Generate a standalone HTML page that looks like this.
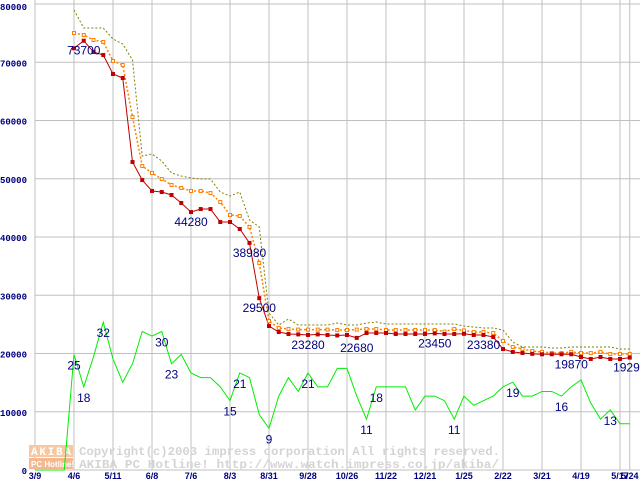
<!DOCTYPE html>
<html><head><meta charset="utf-8"><style>
html,body{margin:0;padding:0;background:#fff;}
svg{display:block;}
text{font-family:"Liberation Sans",sans-serif;}
text.mono{font-family:"Liberation Mono",monospace;}
</style></head><body>
<svg id="chart" width="640" height="480" viewBox="0 0 640 480" xmlns="http://www.w3.org/2000/svg">
<g id="grid"></g>
<g id="watermark">
  <rect x="29" y="445" width="44" height="12" fill="#f7c8a0"/>
  <rect x="29" y="458" width="44" height="11" fill="#f4b890"/>
  <text class="mono" x="31" y="455" font-size="11" font-weight="bold" fill="#fff" textLength="40">AKIBA</text>
  <text x="31" y="467" font-size="8" font-weight="bold" fill="#fff">PC Hotline!</text>
  <text class="mono" x="79" y="455" font-size="12" font-weight="bold" fill="#d4d4d4" textLength="421" lengthAdjust="spacingAndGlyphs">Copyright(c)2003 impress corporation All rights reserved.</text>
  <text class="mono" x="79" y="468" font-size="12" font-weight="bold" fill="#d4d4d4" textLength="420" lengthAdjust="spacingAndGlyphs">AKIBA PC Hotline!  http://www.watch.impress.co.jp/akiba/</text>
</g>
<g id="series"></g>
<g id="labels"></g>
</svg>
<script>
const xLabels = ["3/9","4/6","5/11","6/8","7/6","8/3","8/31","9/28","10/26","11/22","12/21","1/25","2/22","3/21","4/19","5/17","5/24"];
const xLabelIdx = [0,4,8,12,16,20,24,28,32,36,40,44,48,52,56,60,61];
const yTicks = [0,10000,20000,30000,40000,50000,60000,70000,80000];
const START = 4;
const minPrice = [72400,73700,71760,71240,67980,67300,52870,49780,47900,47720,47210,45840,44280,44800,44800,42570,42570,41370,38980,29500,24720,23690,23350,23280,23180,23280,23180,23100,23180,22680,23520,23520,23520,23350,23350,23350,23350,23450,23350,23350,23380,23180,23180,22830,20770,20260,20090,19940,19870,19870,19870,19870,19400,19060,19400,19060,19060,19299];
const avgPrice = [75020,74680,73820,73480,70210,69530,60600,52190,50990,49950,48930,48410,47900,47900,47550,46000,43780,43600,41720,35540,25580,24380,24200,24100,24100,24100,24100,24030,24030,24100,24200,24200,24030,24030,24030,24030,24030,24030,23760,24200,23950,23690,23690,23520,22150,21120,20770,20430,20260,20080,20080,20260,20080,20080,20260,19910,19910,19910];
const maxPrice = [78970,75880,75880,75880,73990,73130,70390,53900,54250,53050,50990,50470,50130,49950,49950,47720,47040,47720,42920,41720,26950,24890,25920,24890,24890,24890,24890,25230,24890,24890,25230,25410,25060,25060,25060,25060,25060,25060,25060,25060,24720,24550,24380,24380,24030,21970,21120,21120,21120,20940,20940,21120,21120,21120,21120,21120,20770,20770];
const shopCount = [0,0,0,0,25,18,24.5,32,24,19,23,30,29,30,23,25,21,20,20,18,15,21,20,12,9,16,20,17,21,18,18,22,22,16,11,18,18,18,18,13,16,16,15,11,16,14,15,16,18,19,16,16,17,17,16,18,19.5,14.5,11,13,10,10];
const priceLabelIdx = [5,16,22,23,28,33,41,46,55,61];
const priceLabelText = ["73700","44280","38980","29500","23280","22680","23450","23380","19870","19299"];
const countLabelIdx = [4,5,7,13,14,20,21,24,28,34,35,43,49,54,59];

const NS="http://www.w3.org/2000/svg";
const X0=35, DX=9.75, Y0=470, PPU=466/80000, CPU=4.62;
const xs=i=>X0+i*DX;
const ys=v=>Y0-v*PPU;
const yc=c=>Y0-c*CPU;
function mk(tag,attrs,parent){const e=document.createElementNS(NS,tag);for(const k in attrs)e.setAttribute(k,attrs[k]);parent.appendChild(e);return e;}
const grid=document.getElementById('grid'),series=document.getElementById('series'),labels=document.getElementById('labels');

yTicks.forEach(v=>{
  const l=mk('line',{x1:X0,x2:640,y1:ys(v),y2:ys(v),stroke:'#c0c0c0','stroke-width':1},grid);
  
  
  const t=mk('text',{class:'mono',x:27,y:ys(v)+(v===80000?6:4),'text-anchor':'end','font-size':9,'font-weight':'bold',fill:'#000080'},grid);
  t.textContent=String(v);
  
  
});
xLabelIdx.forEach((i,k)=>{
  const l=mk('line',{x1:xs(i),x2:xs(i),y1:0,y2:Y0,stroke:'#c0c0c0','stroke-width':1},grid);
  
  
  const t=mk('text',{x:xs(i),y:479,'text-anchor':'middle','font-size':9,'font-weight':'bold',fill:'#000080'},grid);
  t.textContent=xLabels[k];
  
  
});

function pts(arr,off,fy){return arr.map((v,j)=>xs(j+off).toFixed(2)+','+fy(v).toFixed(2)).join(' ');}
const g1=mk('polyline',{points:pts(shopCount,0,yc),fill:'none',stroke:'#00ee00','stroke-width':1},series);


const mx=mk('polyline',{points:pts(maxPrice,START,ys),fill:'none',stroke:'#808000','stroke-width':1,'stroke-dasharray':'2,2'},series);


const av=mk('polyline',{points:pts(avgPrice,START,ys),fill:'none',stroke:'#ff8000','stroke-width':1.5,'stroke-dasharray':'2,2'},series);


const mn=mk('polyline',{points:pts(minPrice,START,ys),fill:'none',stroke:'#c00000','stroke-width':1},series);


avgPrice.forEach((v,j)=>{
  const r=mk('rect',{x:xs(j+START)-1.5,y:ys(v)-1.5,width:3,height:3,fill:'#fff',stroke:'#ff8000','stroke-width':1},series);
  
  
});
minPrice.forEach((v,j)=>{
  const r=mk('rect',{x:xs(j+START)-2,y:ys(v)-2,width:4,height:4,fill:'#c00000'},series);
  
  
});
priceLabelIdx.forEach((i,k)=>{
  const t=mk('text',{x:xs(i),y:ys(minPrice[i-START])+14,'text-anchor':'middle','font-size':12,fill:'#000080'},labels);
  t.textContent=priceLabelText[k];
  
  
});
countLabelIdx.forEach(i=>{
  const t=mk('text',{x:xs(i),y:yc(shopCount[i])+15,'text-anchor':'middle','font-size':12,fill:'#000080'},labels);
  t.textContent=String(Math.round(shopCount[i]));
  
  
});
</script>
</body></html>
